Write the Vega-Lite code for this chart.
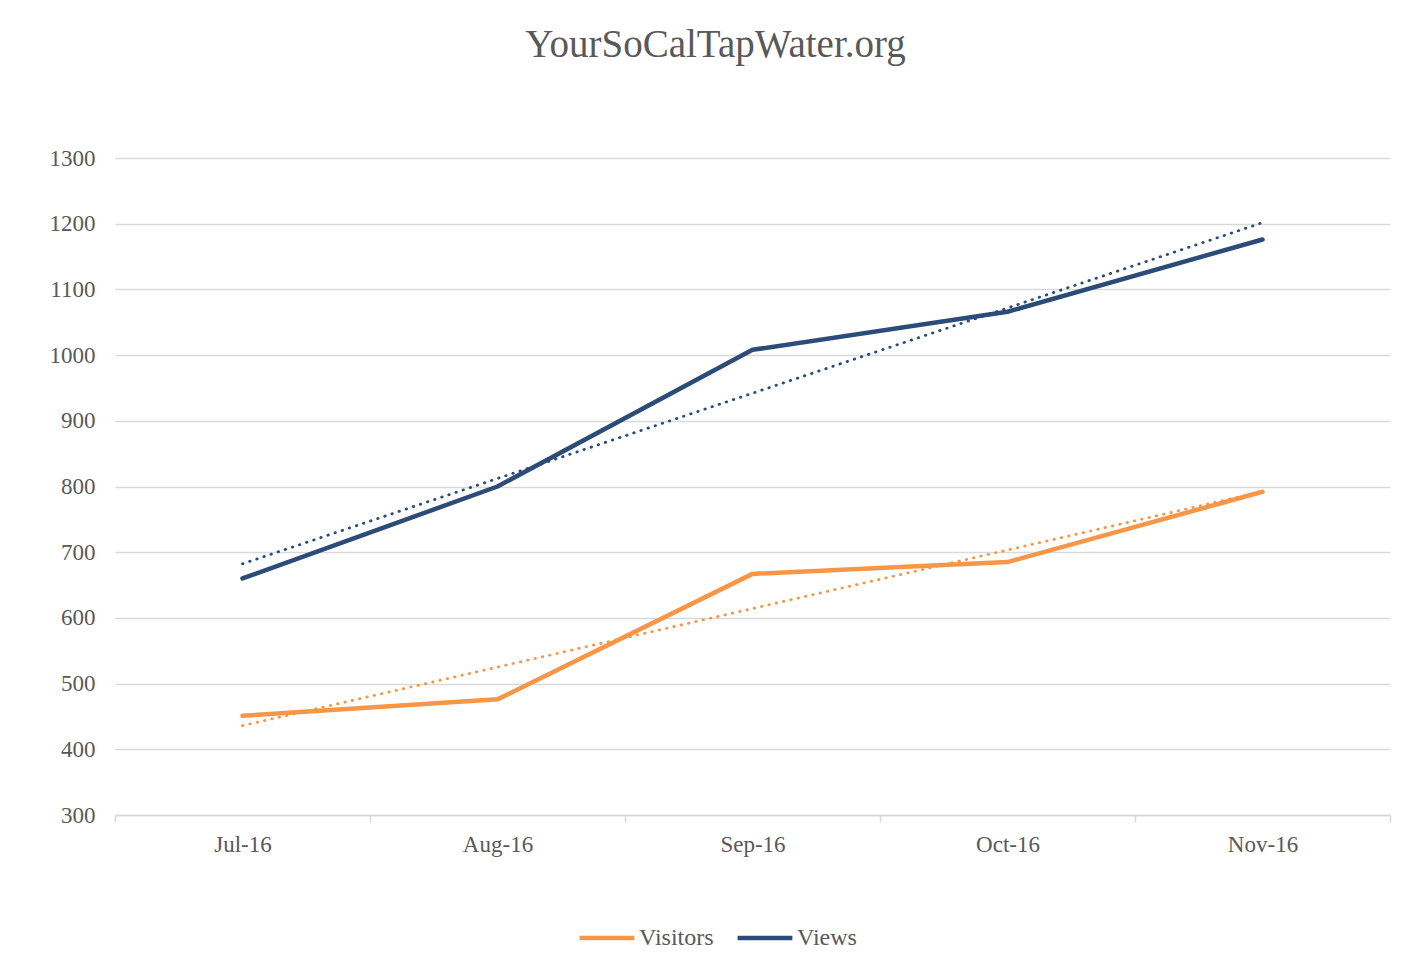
{
  "$schema": "https://vega.github.io/schema/vega-lite/v6.json",
  "autosize": "none",
  "width": 1275,
  "height": 657,
  "padding": {"left": 115, "top": 158, "right": 37, "bottom": 160},
  "background": "white",
  "title": {
    "text": "YourSoCalTapWater.org",
    "font": "Liberation Serif",
    "fontSize": 39,
    "fontWeight": "normal",
    "color": "#595959",
    "anchor": "middle",
    "dx": -37,
    "offset": 82
  },
  "config": {
    "view": {"stroke": null},
    "font": "Liberation Serif"
  },
  "data": {
    "values": [
      {"month": "Jul-16", "idx": 0, "series": "Visitors", "value": 451},
      {"month": "Aug-16", "idx": 1, "series": "Visitors", "value": 476},
      {"month": "Sep-16", "idx": 2, "series": "Visitors", "value": 667},
      {"month": "Oct-16", "idx": 3, "series": "Visitors", "value": 685},
      {"month": "Nov-16", "idx": 4, "series": "Visitors", "value": 792},
      {"month": "Jul-16", "idx": 0, "series": "Views", "value": 660},
      {"month": "Aug-16", "idx": 1, "series": "Views", "value": 800},
      {"month": "Sep-16", "idx": 2, "series": "Views", "value": 1008},
      {"month": "Oct-16", "idx": 3, "series": "Views", "value": 1066},
      {"month": "Nov-16", "idx": 4, "series": "Views", "value": 1176}
    ]
  },
  "layer": [
    {
      "mark": {"type": "line", "strokeWidth": 4.5, "strokeCap": "round", "strokeJoin": "round"},
      "encoding": {
        "x": {
          "field": "month",
          "type": "ordinal",
          "sort": ["Jul-16", "Aug-16", "Sep-16", "Oct-16", "Nov-16"],
          "bandPosition": 0.5,
          "scale": {"type": "band", "paddingInner": 0, "paddingOuter": 0},
          "axis": {
            "title": null,
            "labelAngle": 0,
            "labelFont": "Liberation Serif",
            "labelFontSize": 23,
            "labelColor": "#595959",
            "labelPadding": 11,
            "tickBand": "extent",
            "ticks": true,
            "tickSize": 7,
            "tickColor": "#d9d9d9",
            "tickWidth": 1.5,
            "domainColor": "#d9d9d9",
            "domainWidth": 1.5,
            "grid": false
          }
        },
        "y": {
          "field": "value",
          "type": "quantitative",
          "scale": {"domain": [300, 1300], "nice": false, "zero": false},
          "axis": {
            "title": null,
            "format": "d",
            "values": [300, 400, 500, 600, 700, 800, 900, 1000, 1100, 1200, 1300],
            "labelFont": "Liberation Serif",
            "labelFontSize": 23,
            "labelColor": "#595959",
            "labelPadding": 20,
            "ticks": false,
            "domain": false,
            "grid": true,
            "gridColor": "#d9d9d9",
            "gridWidth": 1.5
          }
        },
        "color": {
          "field": "series",
          "type": "nominal",
          "scale": {"domain": ["Visitors", "Views"], "range": ["#F79646", "#2C4C78"]},
          "legend": {
            "title": null,
            "orient": "none",
            "direction": "horizontal",
            "legendX": 462,
            "legendY": 750,
            "symbolType": "stroke",
            "symbolSize": 3000,
            "symbolStrokeWidth": 4.5,
            "labelFont": "Liberation Serif",
            "labelFontSize": 24,
            "labelColor": "#595959",
            "labelOffset": 2,
            "columnPadding": 14
          }
        }
      }
    },
    {
      "transform": [
        {"regression": "value", "on": "idx", "groupby": ["series"]}
      ],
      "mark": {"type": "line", "strokeWidth": 2.8, "strokeCap": "round", "strokeDash": [0.5, 7]},
      "encoding": {
        "x": {
          "field": "idx",
          "type": "quantitative",
          "scale": {"domain": [-0.5, 4.5], "nice": false, "zero": false},
          "axis": null
        },
        "y": {"field": "value", "type": "quantitative"},
        "color": {"field": "series", "type": "nominal", "legend": null}
      }
    }
  ],
  "resolve": {"scale": {"x": "independent"}}
}
